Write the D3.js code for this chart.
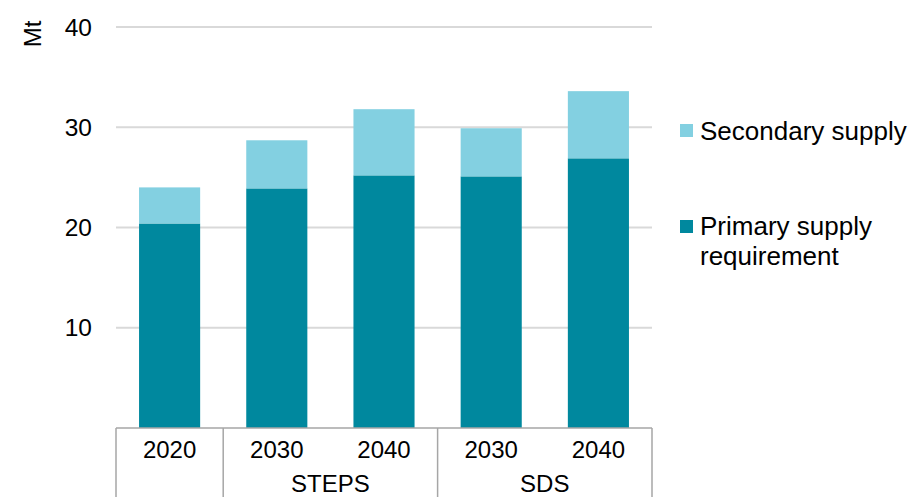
<!DOCTYPE html>
<html>
<head>
  <meta charset="utf-8">
  <title>Supply chart</title>
  <script src="https://cdn.jsdelivr.net/npm/d3@7"></script>
  <style>
    body { margin:0; background:#fff; }
    svg text { font-family: "Liberation Sans", Arial, sans-serif; fill:#000; }
  </style>
</head>
<body>
<div id="chart"></div>
<script>
// chart values
var years = ['2020', '2030', '2040', '2030', '2040'];
var scenarios = ['', 'STEPS', 'STEPS', 'SDS', 'SDS'];
var primary = [20.4, 23.9, 25.2, 25.1, 26.9];
var secondary = [3.6, 4.8, 6.6, 4.8, 6.7];
var yTicks = [10, 20, 30, 40];
var seriesNames = ['Secondary supply', 'Primary supply requirement'];
var groups = [
  { name: '', from: 0, to: 0 },
  { name: 'STEPS', from: 1, to: 2 },
  { name: 'SDS', from: 3, to: 4 }
];

var colors = { primary: '#00889e', secondary: '#83d0e1' };

var svg = d3.select('#chart').append('svg')
  .attr('width', 912)
  .attr('height', 497);

var plotLeft = 116, plotRight = 652, plotTop = 27, plotBottom = 428;

var x = d3.scaleBand()
  .domain(d3.range(years.length))
  .range([plotLeft, plotRight])
  .paddingInner(0.43)
  .paddingOuter(0.215);

var y = d3.scaleLinear()
  .domain([0, 40])
  .range([plotBottom, plotTop]);

// gridlines
svg.append('g').selectAll('line')
  .data(yTicks)
  .enter().append('line')
  .attr('x1', plotLeft)
  .attr('x2', plotRight)
  .attr('y1', function(d) { return y(d); })
  .attr('y2', function(d) { return y(d); })
  .attr('stroke', '#d9d9d9')
  .attr('stroke-width', 2);

// y tick labels
svg.append('g').selectAll('text')
  .data(yTicks)
  .enter().append('text')
  .attr('x', 92)
  .attr('y', function(d) { return y(d); })
  .attr('dy', '0.35em')
  .attr('text-anchor', 'end')
  .style('font-size', '24.5px')
  .text(function(d) { return d; });

svg.append('text')
  .attr('transform', 'translate(41,34) rotate(-90)')
  .attr('text-anchor', 'middle')
  .style('font-size', '24px')
  .text('Mt');

// stacked bars
var idx = d3.range(years.length);
svg.append('g').selectAll('rect')
  .data(idx)
  .enter().append('rect')
  .attr('x', function(i) { return x(i); })
  .attr('width', x.bandwidth())
  .attr('y', function(i) { return y(primary[i]); })
  .attr('height', function(i) { return y(0) - y(primary[i]); })
  .attr('fill', colors.primary);

svg.append('g').selectAll('rect')
  .data(idx)
  .enter().append('rect')
  .attr('x', function(i) { return x(i); })
  .attr('width', x.bandwidth())
  .attr('y', function(i) { return y(primary[i] + secondary[i]); })
  .attr('height', function(i) { return y(primary[i]) - y(primary[i] + secondary[i]); })
  .attr('fill', colors.secondary);

// category axis
var axisColor = '#a6a6a6';
svg.append('line')
  .attr('x1', plotLeft).attr('x2', plotRight)
  .attr('y1', plotBottom).attr('y2', plotBottom)
  .attr('stroke', axisColor).attr('stroke-width', 1.5);

var step = x.step();
var edges = [plotLeft];
groups.forEach(function(g) { edges.push(plotLeft + (g.to + 1) * step); });
svg.append('g').selectAll('line')
  .data(edges)
  .enter().append('line')
  .attr('x1', function(d) { return d; })
  .attr('x2', function(d) { return d; })
  .attr('y1', plotBottom)
  .attr('y2', 497)
  .attr('stroke', axisColor)
  .attr('stroke-width', 1.5);

svg.append('g').selectAll('text')
  .data(idx)
  .enter().append('text')
  .attr('x', function(i) { return x(i) + x.bandwidth() / 2; })
  .attr('y', 458)
  .attr('text-anchor', 'middle')
  .style('font-size', '24px')
  .text(function(i) { return years[i]; });

svg.append('g').selectAll('text')
  .data(groups.filter(function(g) { return g.name; }))
  .enter().append('text')
  .attr('x', function(g) { return plotLeft + (g.from + g.to + 1) / 2 * step; })
  .attr('y', 492)
  .attr('text-anchor', 'middle')
  .style('font-size', '24px')
  .text(function(g) { return g.name; });

// legend
var legend = svg.append('g');
legend.append('rect')
  .attr('x', 680).attr('y', 124).attr('width', 13).attr('height', 13)
  .attr('fill', colors.secondary);
legend.append('text')
  .attr('x', 700).attr('y', 140)
  .style('font-size', '26px')
  .text(seriesNames[0]);

legend.append('rect')
  .attr('x', 680).attr('y', 220).attr('width', 13).attr('height', 13)
  .attr('fill', colors.primary);
var t = legend.append('text')
  .attr('x', 700).attr('y', 235)
  .style('font-size', '26px');
t.append('tspan').attr('x', 700).text('Primary supply');
t.append('tspan').attr('x', 700).attr('dy', 30).text('requirement');
</script>
</body>
</html>
